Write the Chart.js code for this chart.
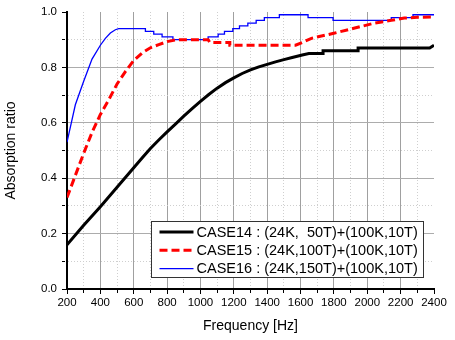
<!DOCTYPE html>
<html>
<head>
<meta charset="utf-8">
<script src="https://cdn.jsdelivr.net/npm/chart.js@4/dist/chart.umd.min.js"></script>
<style>
  body { margin: 0; background: #fff; }
  #wrap { width: 455px; height: 340px; }
</style>
</head>
<body>
<div id="wrap"><canvas id="absChart" width="455" height="340"></canvas></div>
<script>
// CASE14 : (24K, 50T)+(100K,10T)
const case14Freq = [200, 300, 400, 500, 600, 650, 700, 750, 800, 850, 900, 950, 1000, 1050, 1100, 1150, 1200, 1250, 1300, 1350, 1400, 1450, 1500, 1550, 1610, 1650, 1735, 1735, 1945, 1945, 2374, 2400];
const case14Value = [0.16, 0.23, 0.297, 0.367, 0.438, 0.473, 0.507, 0.538, 0.567, 0.595, 0.624, 0.651, 0.677, 0.702, 0.725, 0.745, 0.762, 0.778, 0.791, 0.802, 0.811, 0.82, 0.828, 0.836, 0.845, 0.85, 0.85, 0.86, 0.86, 0.87, 0.87, 0.88];

// CASE15 : (24K,100T)+(100K,10T)
const case15Freq = [200, 250, 300, 350, 400, 450, 500, 550, 600, 650, 700, 750, 800, 850, 880, 1046, 1056, 1176, 1176, 1570, 1610, 1665, 1805, 1925, 2044, 2144, 2222, 2300, 2400];
const case15Value = [0.33, 0.41, 0.49, 0.565, 0.63, 0.683, 0.74, 0.785, 0.825, 0.852, 0.871, 0.882, 0.893, 0.899, 0.90, 0.90, 0.89, 0.89, 0.88, 0.88, 0.89, 0.905, 0.924, 0.942, 0.96, 0.97, 0.978, 0.981, 0.982];

// CASE16 : (24K,150T)+(100K,10T)
const case16Freq = [200, 250, 300, 350, 400, 430, 460, 490, 510, 670, 670, 720, 720, 770, 770, 835, 835, 1046, 1046, 1106, 1106, 1144, 1144, 1194, 1194, 1234, 1234, 1284, 1284, 1334, 1334, 1383, 1383, 1473, 1473, 1645, 1645, 1795, 1795, 2144, 2144, 2274, 2274, 2400];
const case16Value = [0.53, 0.665, 0.75, 0.83, 0.88, 0.905, 0.924, 0.936, 0.94, 0.94, 0.93, 0.93, 0.92, 0.92, 0.91, 0.91, 0.90, 0.90, 0.91, 0.91, 0.92, 0.92, 0.93, 0.93, 0.94, 0.94, 0.95, 0.95, 0.96, 0.96, 0.97, 0.97, 0.98, 0.98, 0.99, 0.99, 0.98, 0.98, 0.97, 0.97, 0.98, 0.98, 0.99, 0.99];

const seriesLabels = ['CASE14 : (24K,  50T)+(100K,10T)', 'CASE15 : (24K,100T)+(100K,10T)', 'CASE16 : (24K,150T)+(100K,10T)'];

const xMin = 200, xMax = 2400, xStep = 100;
const yMin = 0, yMax = 1, yStep = 0.1;

function toPoints(xs, ys) {
  return xs.map((x, i) => ({ x: x, y: ys[i] }));
}

const FONT = 'Arial, "Liberation Sans", sans-serif';

// legend drawn as a framed box inside the plot
const boxLegend = {
  id: 'boxLegend',
  afterDraw(chart) {
    const ctx = chart.ctx;
    const area = chart.chartArea;
    const left = area.left + 84.5, top = area.top + 209.5;
    const w = 272, h = 56, rowH = 18.3;
    ctx.save();
    ctx.fillStyle = '#fff';
    ctx.fillRect(left, top, w, h);
    ctx.strokeStyle = '#333';
    ctx.lineWidth = 1;
    ctx.strokeRect(left, top, w, h);
    ctx.font = '14.5px ' + FONT;
    ctx.textBaseline = 'middle';
    chart.data.datasets.forEach((ds, i) => {
      const y = top + 10.5 + i * rowH;
      ctx.beginPath();
      ctx.strokeStyle = ds.borderColor;
      ctx.lineWidth = ds.borderWidth;
      ctx.setLineDash(ds.borderDash || []);
      ctx.moveTo(left + 8, y);
      ctx.lineTo(left + 42, y);
      ctx.stroke();
      ctx.setLineDash([]);
      ctx.fillStyle = '#000';
      ctx.fillText(ds.label, left + 45, y + 0.5);
    });
    ctx.restore();
  }
};

function isMajorX(v) { return Math.round(v) % 200 === 0; }
function isMajorY(v) { return Math.round(v * 10) % 2 === 0; }

const ctx = document.getElementById('absChart').getContext('2d');
const absChart = new Chart(ctx, {
  type: 'line',
  data: {
    datasets: [{
      label: seriesLabels[0],
      data: toPoints(case14Freq, case14Value),
      borderColor: '#000000',
      borderWidth: 3,
      pointRadius: 0,
      tension: 0
    }, {
      label: seriesLabels[1],
      data: toPoints(case15Freq, case15Value),
      borderColor: '#ff0000',
      borderWidth: 3,
      borderDash: [8, 4],
      pointRadius: 0,
      tension: 0
    }, {
      label: seriesLabels[2],
      data: toPoints(case16Freq, case16Value),
      borderColor: '#0000ff',
      borderWidth: 1.3,
      pointRadius: 0,
      tension: 0
    }]
  },
  options: {
    responsive: false,
    animation: false,
    layout: { padding: { left: 0, right: 21, top: 12, bottom: 0 } },
    plugins: {
      legend: { display: false },
      tooltip: { enabled: false }
    },
    scales: {
      x: {
        type: 'linear',
        min: xMin,
        max: xMax,
        afterFit(scale) { scale.height = 51; },
        ticks: {
          stepSize: xStep,
          autoSkip: false,
          maxRotation: 0,
          padding: 2,
          color: '#000',
          font: { family: FONT, size: 11.5 },
          callback: (v) => isMajorX(v) ? String(v) : ''
        },
        grid: {
          color: (c) => {
            const v = c.tick ? c.tick.value : 0;
            if (v === xMin || v === xMax) return 'rgba(0,0,0,0)';
            return isMajorX(v) ? '#a0a0a0' : '#cfcfcf';
          },
          lineWidth: 1,
          tickLength: 5,
          tickColor: '#000',
          tickWidth: 1,
          tickBorderDash: (c) => isMajorX(c.tick ? c.tick.value : 0) ? [] : [3, 10]
        },
        border: {
          display: true,
          color: '#000',
          width: 2,
          dash: (c) => isMajorX(c.tick ? c.tick.value : 0) ? [] : [1, 2]
        },
        title: {
          display: true,
          text: 'Frequency [Hz]',
          color: '#000',
          font: { family: FONT, size: 14 },
          padding: { top: 0, bottom: 5 }
        }
      },
      y: {
        min: yMin,
        max: yMax,
        afterFit(scale) { scale.width = 67; },
        ticks: {
          stepSize: yStep,
          autoSkip: false,
          padding: 5,
          color: '#000',
          font: { family: FONT, size: 11.5 },
          callback: (v) => isMajorY(v) ? v.toFixed(1) : ''
        },
        grid: {
          color: (c) => {
            const v = c.tick ? c.tick.value : 0;
            if (Math.abs(v - yMin) < 1e-6 || Math.abs(v - yMax) < 1e-6) return 'rgba(0,0,0,0)';
            return isMajorY(v) ? '#acacac' : '#cfcfcf';
          },
          lineWidth: 1,
          tickLength: 5,
          tickColor: '#000',
          tickWidth: 1,
          tickBorderDash: (c) => isMajorY(c.tick ? c.tick.value : 0) ? [] : [3, 10]
        },
        border: {
          display: true,
          color: '#000',
          width: 2,
          dash: (c) => isMajorY(c.tick ? c.tick.value : 0) ? [] : [1, 2]
        },
        title: {
          display: true,
          text: 'Absorption ratio',
          color: '#000',
          font: { family: FONT, size: 14 },
          padding: { top: 3, bottom: 0 }
        }
      }
    }
  },
  plugins: [boxLegend]
});
</script>
</body>
</html>
